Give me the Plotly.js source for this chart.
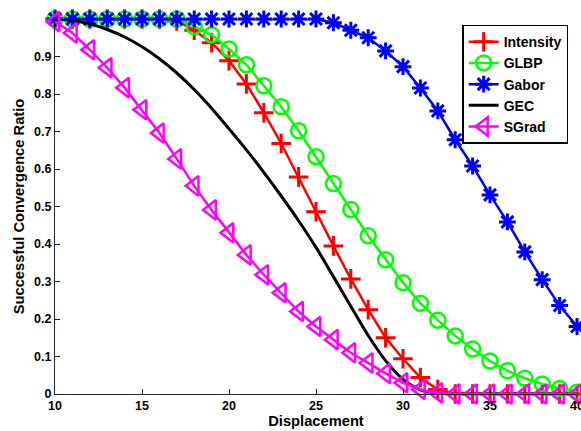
<!DOCTYPE html>
<html><head><meta charset="utf-8">
<script src="https://cdn.plot.ly/plotly-3.0.1.min.js"></script>
<style>html,body{margin:0;padding:0;background:#fff}#chart{width:581px;height:431px}</style>
</head><body><div id="chart"></div>
<script>
const displacement = [10,11,12,13,14,15,16,17,18,19,20,21,22,23,24,25,26,27,28,29,30,31,32,33,34,35,36,37,38,39,40];
const intensity = [1,1,1,1,1,1,1,0.995,0.97,0.937,0.889,0.827,0.75,0.668,0.579,0.486,0.395,0.307,0.225,0.15,0.094,0.044,0.012,0,0,0,0,0,0,0,0];
const glbp = [1,1,1,1,1,1,1,1,0.98,0.958,0.92,0.878,0.822,0.766,0.702,0.633,0.561,0.492,0.422,0.358,0.297,0.242,0.197,0.155,0.12,0.088,0.062,0.042,0.027,0.015,0.005];
const gabor = [1,1,1,1,1,1,1,1,1,1,1,1,1,1,1,1,0.99,0.97,0.95,0.915,0.873,0.816,0.755,0.678,0.608,0.531,0.459,0.379,0.305,0.236,0.18];
const gec = [1,0.996,0.987,0.972,0.952,0.926,0.894,0.856,0.812,0.762,0.707,0.651,0.591,0.528,0.462,0.391,0.313,0.234,0.156,0.089,0.039,0.011,0,0,0,0,0,0,0,0,0];
const sgrad = [0.993,0.963,0.918,0.87,0.817,0.758,0.696,0.627,0.555,0.491,0.43,0.371,0.318,0.27,0.22,0.18,0.145,0.11,0.083,0.055,0.03,0.012,0.003,0,0,0,0,0,0,0,0];
const xTicks = [10,15,20,25,30,35,40];
const yTicks = [0,0.1,0.2,0.3,0.4,0.5,0.6,0.7,0.8,0.9];

const F = 'Arial, "Liberation Sans", sans-serif';
const traces = [
  {name:'Intensity', y:intensity, color:'#ff0000', symbol:'cross-thin-open', size:14, mlw:3},
  {name:'GLBP', y:glbp, color:'#00ff00', symbol:'circle-open', size:15, mlw:2.5},
  {name:'Gabor', y:gabor, color:'#0000ff', symbol:'asterisk-open', size:14, mlw:3},
  {name:'GEC', y:gec, color:'#000000', symbol:null},
  {name:'SGrad', y:sgrad, color:'#ff00ff', symbol:'triangle-left-open', size:17, mlw:2.5}
].map(t => {
  const tr = {type:'scatter', x:displacement, y:t.y, name:t.name, cliponaxis:false,
    line:{color:t.color, width:2.5}};
  if (t.symbol) { tr.mode='lines+markers'; tr.marker={symbol:t.symbol, size:t.size, color:t.color, line:{color:t.color, width:t.mlw}}; }
  else { tr.mode='lines'; tr.line.width=3; tr.line.shape='spline'; tr.line.smoothing=1; }
  return tr;
});

const layout = {
  width:581, height:431,
  margin:{l:55, r:4, t:19, b:37},
  paper_bgcolor:'#fff', plot_bgcolor:'#fff',
  showlegend:true,
  legend:{x:0.78, y:0.985, xanchor:'left', yanchor:'top', bgcolor:'#fff', bordercolor:'#000', borderwidth:1.5,
    font:{family:F, size:14, color:'#000', weight:'bold'}, tracegroupgap:0, itemwidth:30},
  xaxis:{range:[10,40], tickvals:xTicks, ticktext:xTicks.map(String), showgrid:false, zeroline:false,
    showline:true, linecolor:'#222', linewidth:1, ticks:'inside', ticklen:5, tickcolor:'#222',
    ticklabeloverflow:'allow',
    tickfont:{family:F, size:12.5, color:'#000', weight:'bold'},
    title:{text:'Displacement', font:{family:F, size:14.7, color:'#000', weight:'bold'}, standoff:3}},
  yaxis:{range:[0,1], tickvals:yTicks, ticktext:yTicks.map(String), showgrid:false, zeroline:false,
    showline:true, linecolor:'#222', linewidth:1, ticks:'inside', ticklen:5, tickcolor:'#222',
    tickfont:{family:F, size:12.5, color:'#000', weight:'bold'},
    title:{text:'Successful Convergence Ratio', font:{family:F, size:14.7, color:'#000', weight:'bold'}, standoff:5}}
};
Plotly.newPlot('chart', traces, layout, {displayModeBar:false, staticPlot:true});
</script></body></html>
